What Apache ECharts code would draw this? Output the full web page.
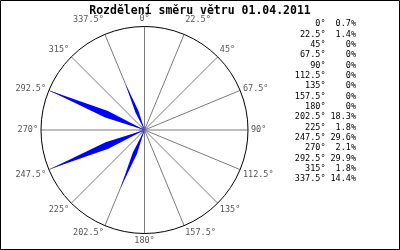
<!DOCTYPE html>
<html>
<head>
<meta charset="utf-8">
<script src="https://cdn.jsdelivr.net/npm/echarts@6/dist/echarts.min.js"></script>
<style>html,body{margin:0;padding:0;background:#fff}#c{width:400px;height:250px}</style>
</head>
<body>
<div id="c"></div>
<script>
const titleText = 'Rozdělení směru větru 01.04.2011';
const directions = [0, 22.5, 45, 67.5, 90, 112.5, 135, 157.5, 180, 202.5, 225, 247.5, 270, 292.5, 315, 337.5];
const dirLabels = ['0°', '22.5°', '45°', '67.5°', '90°', '112.5°', '135°', '157.5°', '180°', '202.5°', '225°', '247.5°', '270°', '292.5°', '315°', '337.5°'];
const percents = [0.7, 1.4, 0, 0, 0, 0, 0, 0, 0, 18.3, 1.8, 29.6, 2.1, 29.9, 1.8, 14.4];
const radiusMax = 30;

const mono = '"DejaVu Sans Mono", "Liberation Mono", monospace';
const chart = echarts.init(document.getElementById('c'), null, {renderer: 'canvas'});

const seriesData = directions.map((d, i) => [percents[i], d]);

chart.setOption({
  backgroundColor: '#ffffff',
  animation: false,
  title: {
    text: titleText,
    left: 'center',
    top: 0,
    textStyle: {fontFamily: mono, fontWeight: 'bold', fontSize: 11.5, color: '#000'}
  },
  polar: {center: [144.5, 130], radius: 103.5},
  angleAxis: {
    type: 'value', min: 0, max: 360, interval: 22.5,
    startAngle: 90, clockwise: true,
    axisLine: {show: true, lineStyle: {color: '#000', width: 1}},
    axisTick: {show: false},
    splitLine: {show: true, lineStyle: {color: '#7a7a7a', width: 1}},
    axisLabel: {
      margin: 3,
      fontFamily: mono, fontSize: 8.5, color: '#555',
      formatter: function (v) {
        const idx = Math.round(v / 22.5);
        if (idx >= 16) return '';
        const s = dirLabels[idx];
        if (idx === 1 || idx === 15) return '{t|' + s + '}';
        if (idx === 3 || idx === 13) return '{m|' + s + '}';
        return '{n|' + s + '}';
      },
      rich: {
        t: {fontFamily: mono, fontSize: 8.5, color: '#555', lineHeight: 23},
        m: {fontFamily: mono, fontSize: 8.5, color: '#555', lineHeight: 1},
        n: {fontFamily: mono, fontSize: 8.5, color: '#555', lineHeight: 9}
      }
    }
  },
  radiusAxis: {
    type: 'value', min: 0, max: radiusMax,
    axisLine: {show: false}, axisTick: {show: false},
    axisLabel: {show: false}, splitLine: {show: false}
  },
  series: [{
    type: 'custom',
    coordinateSystem: 'polar',
    data: seriesData,
    renderItem: function (params, api) {
      const v = api.value(0), a = api.value(1);
      if (!(v > 0)) return null;
      const pts = [
        api.coord([0, a]),
        api.coord([v * 0.4, a - 5]),
        api.coord([v, a]),
        api.coord([v * 0.4, a + 5])
      ];
      return {type: 'polygon', shape: {points: pts}, style: {fill: '#0000ff'}};
    }
  }],
  graphic: [
    {type: 'rect', shape: {x: 0.5, y: 0.5, width: 399, height: 249}, style: {fill: 'none', stroke: '#000', lineWidth: 1}, silent: true},
    {type: 'text', x: 325.5, y: 18.8, style: {text: dirLabels.join('\n'), font: '8.5px ' + mono, fill: '#000', align: 'right', verticalAlign: 'top', lineHeight: 10.35}},
    {type: 'text', x: 356, y: 18.8, style: {text: percents.map(p => p + '%').join('\n'), font: '8.5px ' + mono, fill: '#000', align: 'right', verticalAlign: 'top', lineHeight: 10.35}}
  ]
});
</script>
</body>
</html>
